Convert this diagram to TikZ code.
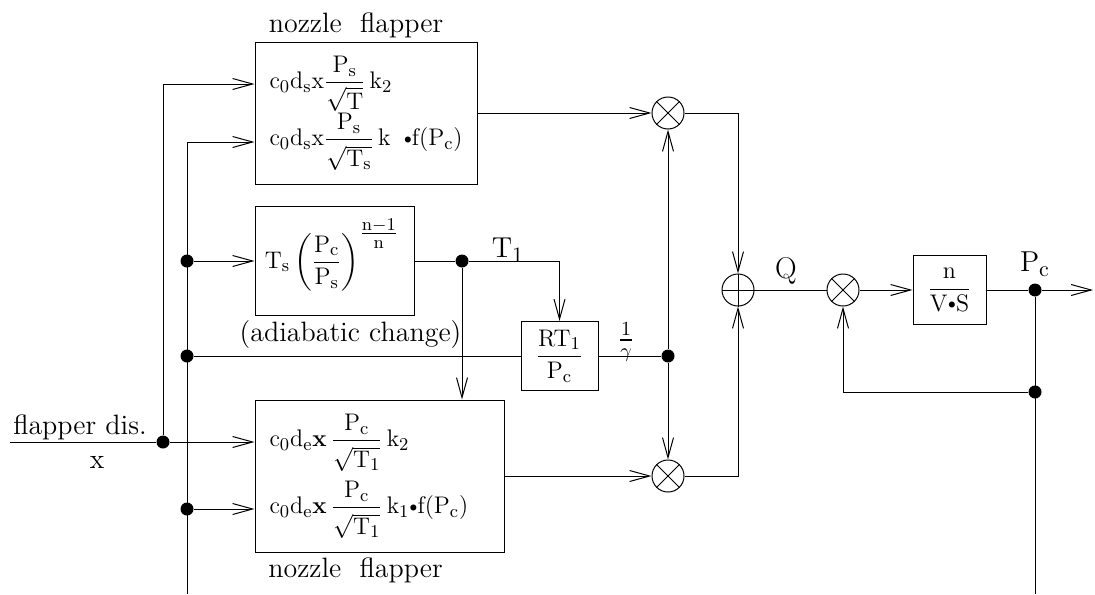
\documentclass[tikz,border=0pt]{standalone}
\usepackage{amsmath}
\usetikzlibrary{arrows.meta, positioning, calc}
\newcommand{\sbul}{\mathord{\vcenter{\hbox{\scriptsize$\bullet$}}}}
\newcommand{\rdn}[1]{\rule{0pt}{11.5pt}\sqrt{\mathrm{#1}}}

\begin{document}
\begin{tikzpicture}[x=0.5pt, y=-0.5pt, line width=0.5pt,
  >={Straight Barb[length=10pt,width=5.5pt]},
  blk/.style={draw, inner sep=0pt, font=\fontsize{13}{15}\selectfont},
  mult/.style={draw, circle, minimum size=16pt, inner sep=0pt},
  jdot/.style={circle, fill, minimum size=6.5pt, inner sep=0pt},
  eqn/.style={inner sep=0pt, anchor=west, font=\fontsize{12.5}{14}\selectfont},
  lbl/.style={inner sep=1pt, font=\fontsize{14}{16}\selectfont},
  sym/.style={inner sep=1pt, font=\fontsize{15}{17}\selectfont}]

  \useasboundingbox (0,0) rectangle (1095,594);

  % blocks
  \node[blk, minimum width=111pt, minimum height=71pt] (nf1) at (366,113) {};
  \node[blk, minimum width=79.5pt, minimum height=54.5pt] (adia) at (334.5,261) {};
  \node[blk, minimum width=38.5pt, minimum height=34.5pt] (rt) at (559.5,356)
        {$\dfrac{\mathrm{RT_1}}{\mathrm{P_c}}$};
  \node[blk, minimum width=124.5pt, minimum height=76pt] (nf2) at (379.5,476) {};
  \node[blk, minimum width=36.5pt, minimum height=34.5pt] (vs) at (949.5,290)
        {$\dfrac{\mathrm{n}}{\mathrm{V\sbul S}}$};

  \node[eqn] (e1) at (269,84)
        {$\mathrm{c_0d_s x}\dfrac{\mathrm{P_s}}{\rdn{T}}\,\mathrm{k_2}$};
  \node[eqn] (e2) at (269,142)
        {$\mathrm{c_0d_s x}\dfrac{\mathrm{P_s}}{\rdn{T_s}}\,\mathrm{k}\;\;\sbul\mathrm{f(P_c)}$};
  \node[inner sep=0pt, font=\fontsize{13}{15}\selectfont] (ts) at (332,255)
        {$\mathrm{T_s}\left(\dfrac{\mathrm{P_c}}{\mathrm{P_s}}\right)^{\textstyle\frac{\mathrm{n-1}}{\mathrm{n}}}$};
  \node[eqn] (e3) at (269,443)
        {$\mathrm{c_0d_e}\mathbf{x}\,\dfrac{\mathrm{P_c}}{\rdn{T_1}}\,\mathrm{k_2}$};
  \node[eqn] (e4) at (269,510)
        {$\mathrm{c_0d_e}\mathbf{x}\,\dfrac{\mathrm{P_c}}{\rdn{T_1}}\,\mathrm{k_1}\sbul\mathrm{f(P_c)}$};

  % summing points
  \node[mult] (m1) at (668,113) {};
  \node[mult] (m2) at (668,476) {};
  \node[mult] (s) at (738,290) {};
  \node[mult] (m3) at (843,290) {};
  \foreach \m in {m1,m2,m3}
    \draw (\m.45) -- (\m.225) (\m.135) -- (\m.315);
  \draw (s.north) -- (s.south) (s.west) -- (s.east);

  % branch points
  \node[jdot] (d1) at (163,442) {};
  \node[jdot] (d2) at (187,261) {};
  \node[jdot] (d3) at (187,356) {};
  \node[jdot] (d4) at (187,509) {};
  \node[jdot] (d5) at (462,261) {};
  \node[jdot] (d6) at (668,356) {};
  \node[jdot] (d7) at (1035,290) {};
  \node[jdot] (d8) at (1035,392) {};

  \coordinate (xin) at (10,442);
  \coordinate (lb) at (187,594);
  \coordinate (pcb) at (1035,594);
  \coordinate (pco) at (1093,290);

  % labels
  \node[lbl, above=0.5pt of nf1, xshift=-5pt] (top) {nozzle\ \ flapper};
  \node[lbl, below=1.5pt of nf2, xshift=-12pt] (bot) {nozzle\ \ flapper};
  \node[lbl, below=1pt of adia, xshift=8pt] (adlbl) {(adiabatic change)};
  \node[lbl] (fd) at (80,427) {flapper dis.};
  \node[lbl] (fx) at (97,462) {x};
  \node[sym] (t1) at (508,250) {$\mathrm{T_1}$};
  \node[lbl] (gm) at (626,342) {$\frac{1}{\gamma}$};
  \node[sym] (q) at (786,271) {Q};
  \node[sym] (pc) at (1035,264) {$\mathrm{P_c}$};

  % connections
  \draw (xin) -- (d1);
  \draw[->] (d1) -- (nf2.west |- d1);
  \draw[->] (d1) |- (nf1.west |- e1);
  \draw[->] (lb) |- (nf1.west |- e2);
  \draw[->] (d2) -- (adia.west |- d2);
  \draw[->] (d4) -- (nf2.west |- d4);
  \draw (d3) -- (rt.west);
  \draw[->] (adia.east) -- (d5) -| (rt.north);
  \draw[->] (d5) -- (d5 |- nf2.north);
  \draw (rt.east) -- (d6);
  \draw[->] (d6) -- (m1.south);
  \draw[->] (d6) -- (m2.north);
  \draw[->] (nf1.east) -- (m1.west);
  \draw[->] (nf2.east) -- (m2.west);
  \draw[->] (m1.east) -| (s.north);
  \draw[->] (m2.east) -| (s.south);
  \draw (s.east) -- (m3.west);
  \draw[->] (m3.east) -- (vs.west);
  \draw (vs.east) -- (d7);
  \draw[->] (d7) -- (pco);
  \draw (d7) -- (pcb);
  \draw[->] (d8) -| (m3.south);

\end{tikzpicture}
\end{document}
